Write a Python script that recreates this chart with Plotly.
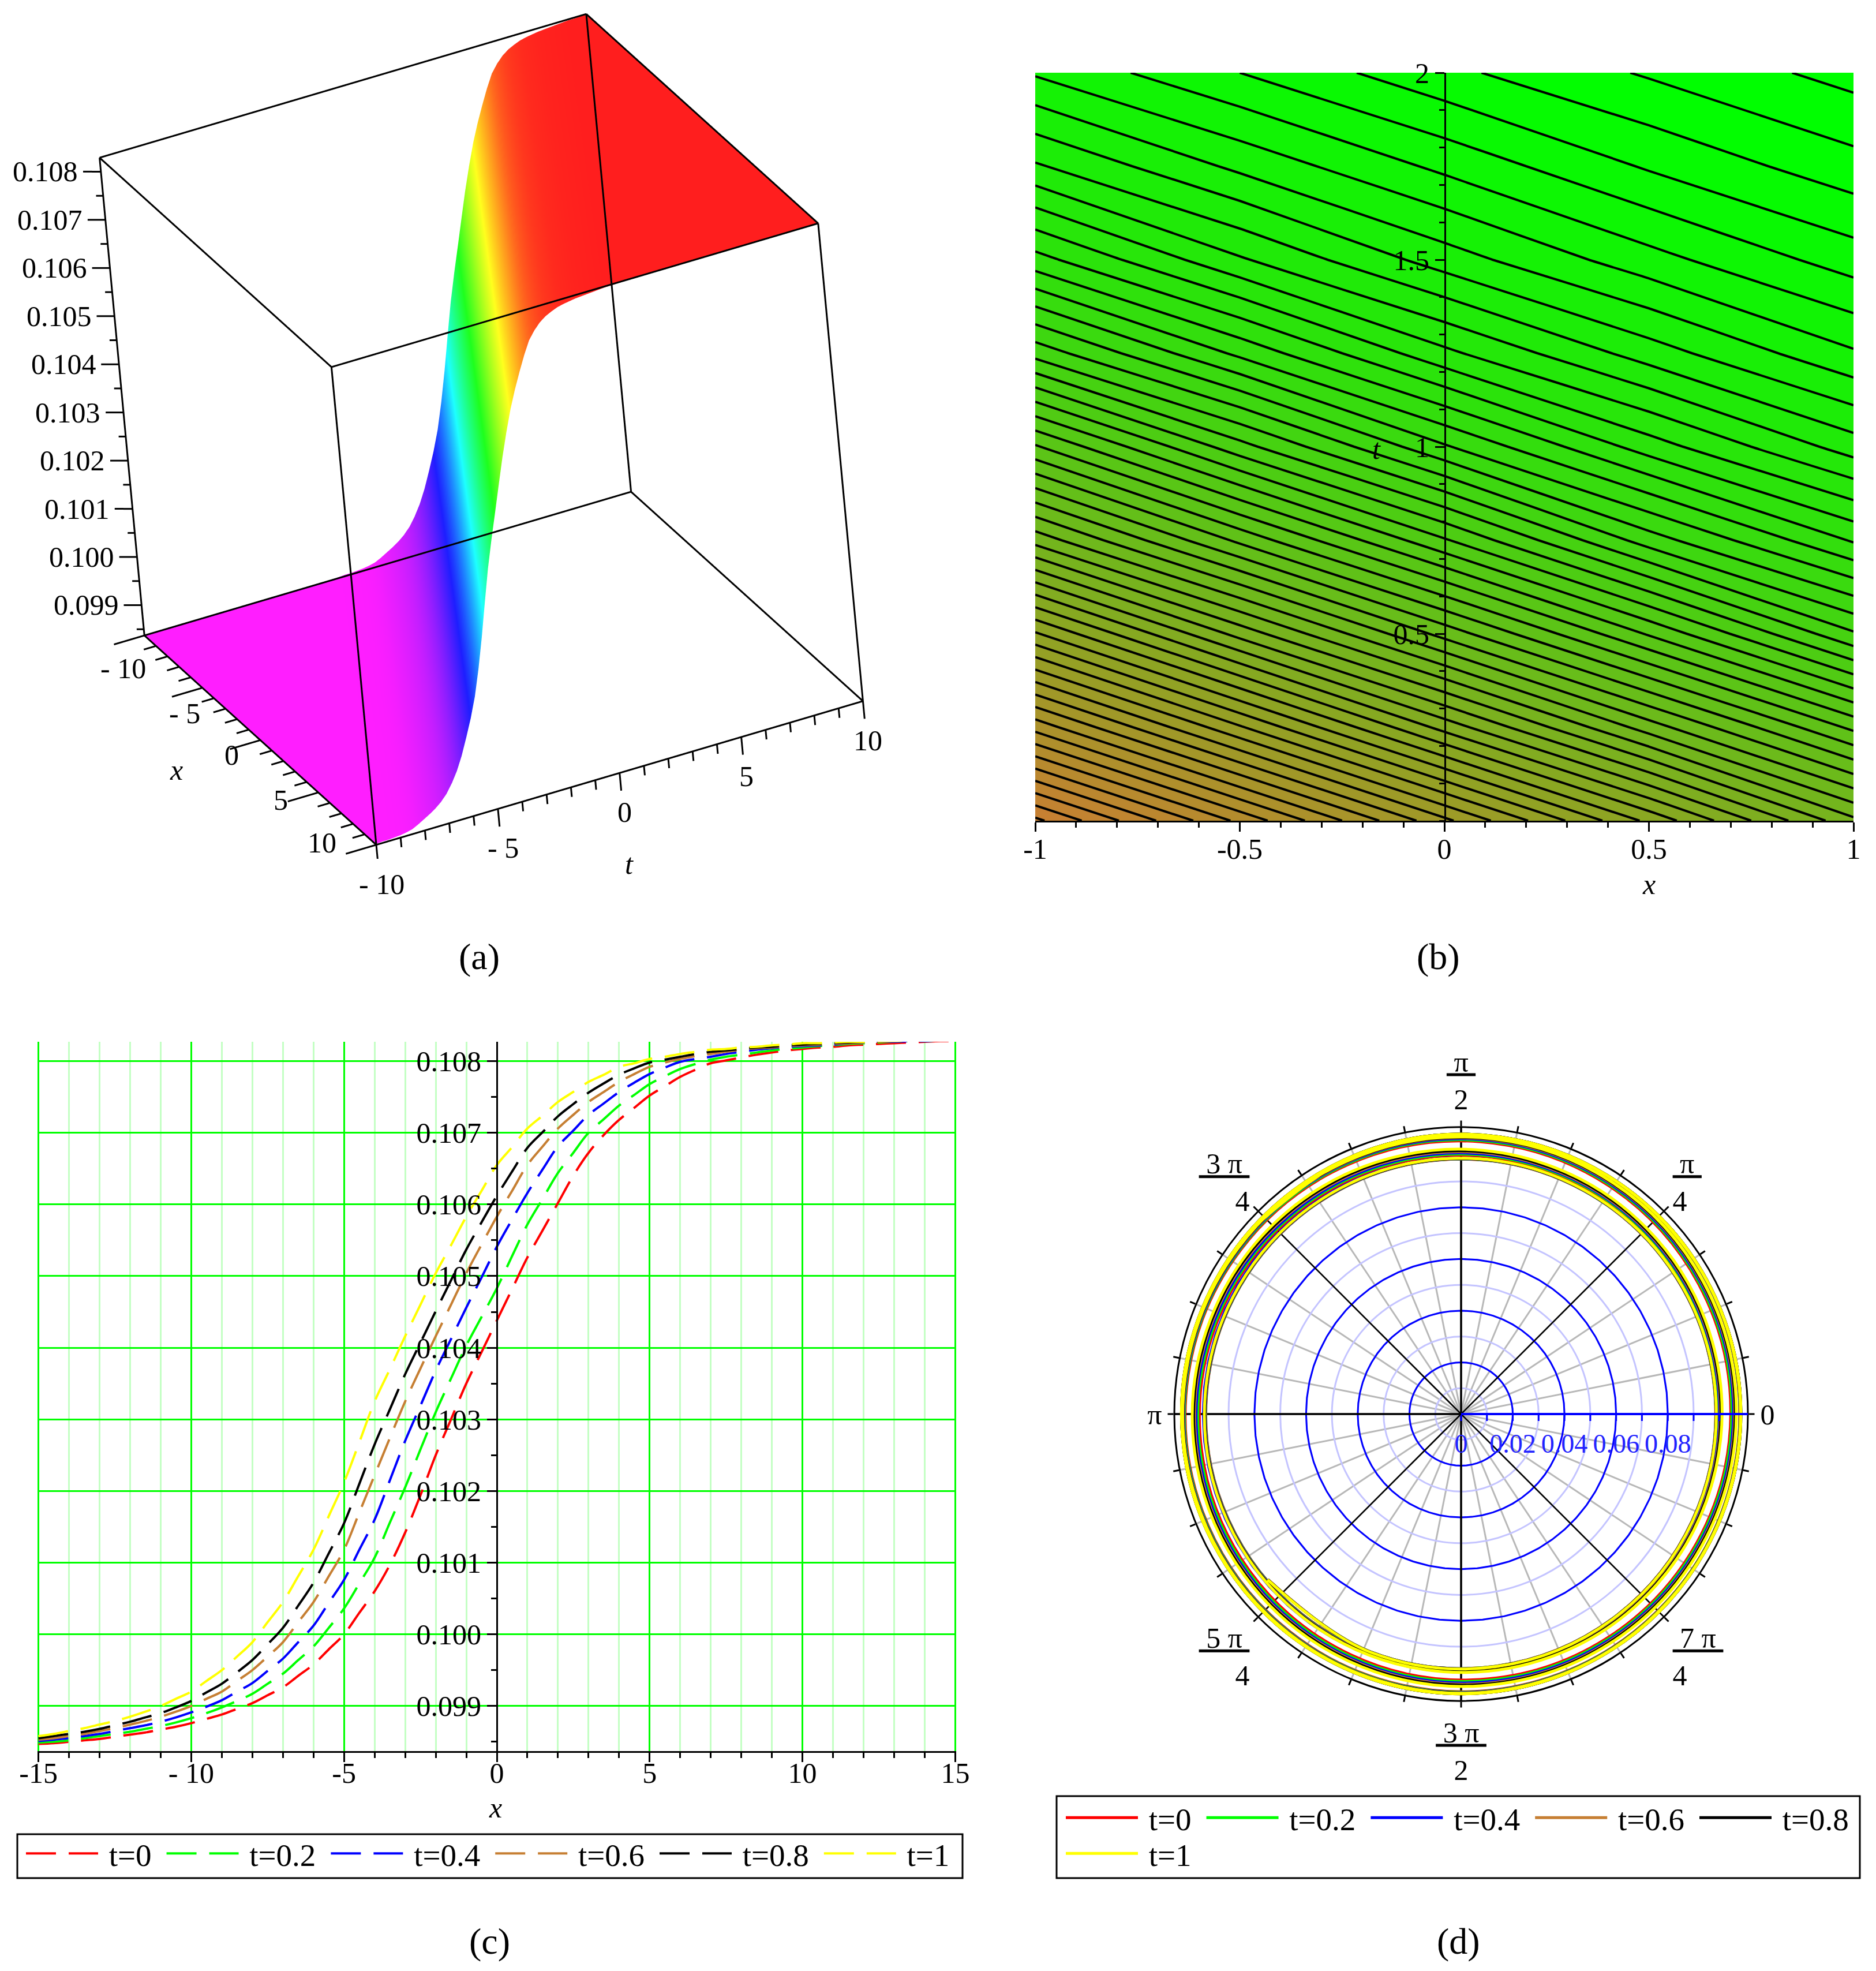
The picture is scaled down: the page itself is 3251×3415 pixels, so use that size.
import plotly.graph_objects as go

W, H = 3251, 3415
SERIF = "Liberation Serif"

# ---------- data ----------
x_whole = list(range(-15, 16))
x_half = [v + .5 for v in range(-15, 15)]
t_labels = ["t=0", "t=0.2", "t=0.4", "t=0.6", "t=0.8", "t=1"]
colors = ["#ff0000", "#00ff00", "#0000ff", "#c67f33", "#000000", "#ffff00"]

# readings at whole x values
u_t00 = [.09847,.09850,.09854,.09860,.09867,.09876,.09888,.09904,.09926,.09958,.10000,.10060,.10142,.10250,.10350,.10438,.10526,.10602,.10672,.10718,.10752,.10778,.10797,.10805,.10812,.10817,.10820,.10823,.10825,.10827,.10828]
u_t02 = [.09849,.09852,.09858,.09864,.09872,.09883,.09898,.09917,.09945,.09983,.10036,.10107,.10205,.10310,.10403,.10483,.10572,.10644,.10700,.10738,.10768,.10789,.10802,.10809,.10815,.10819,.10822,.10825,.10827,.10828,.10829]
u_t04 = [.09851,.09855,.09861,.09869,.09878,.09891,.09908,.09932,.09966,.10012,.10076,.10160,.10270,.10368,.10456,.10541,.10616,.10681,.10725,.10757,.10782,.10799,.10806,.10813,.10818,.10821,.10823,.10826,.10827,.10828,.10829]
u_t06 = [.09853,.09858,.09865,.09874,.09885,.09900,.09920,.09950,.09989,.10045,.10118,.10222,.10325,.10416,.10504,.10583,.10655,.10706,.10743,.10771,.10792,.10803,.10810,.10816,.10819,.10822,.10824,.10826,.10828,.10829,.10829]
u_t08 = [.09855,.09861,.09868,.09878,.09890,.09907,.09931,.09964,.10009,.10072,.10155,.10265,.10363,.10451,.10537,.10612,.10679,.10723,.10756,.10781,.10798,.10806,.10813,.10817,.10820,.10823,.10825,.10827,.10828,.10829,.10829]
u_t10 = [.09858,.09865,.09874,.09885,.09900,.09920,.09950,.09989,.10045,.10118,.10212,.10325,.10416,.10504,.10583,.10655,.10706,.10743,.10771,.10792,.10803,.10810,.10816,.10819,.10822,.10825,.10826,.10827,.10828,.10829,.10829]
# readings at half-way x values
h_t00 = [.09848,.09852,.09857,.09863,.09871,.09882,.09896,.09915,.09942,.09979,.10030,.10097,.10194,.10300,.10394,.10482,.10564,.10640,.10697,.10735,.10765,.10788,.10801,.10809,.10815,.10819,.10822,.10824,.10826,.10828]
h_t02 = [.09850,.09855,.09861,.09868,.09877,.09890,.09907,.09931,.09964,.10009,.10071,.10156,.10258,.10357,.10443,.10528,.10608,.10672,.10719,.10753,.10779,.10796,.10806,.10812,.10817,.10821,.10824,.10826,.10828,.10829]
h_t04 = [.09853,.09858,.09865,.09873,.09884,.09899,.09920,.09949,.09989,.10044,.10118,.10215,.10319,.10412,.10498,.10579,.10649,.10703,.10741,.10770,.10791,.10803,.10810,.10816,.10820,.10822,.10825,.10827,.10828,.10829]
h_t06 = [.09855,.09861,.09869,.09879,.09892,.09910,.09935,.09969,.10017,.10081,.10170,.10274,.10371,.10460,.10544,.10619,.10681,.10725,.10757,.10782,.10798,.10807,.10813,.10818,.10821,.10823,.10825,.10827,.10829,.10829]
h_t08 = [.09858,.09864,.09873,.09884,.09898,.09919,.09947,.09986,.10040,.10113,.10210,.10314,.10407,.10494,.10575,.10646,.10701,.10740,.10769,.10790,.10802,.10810,.10815,.10819,.10822,.10824,.10826,.10828,.10829,.10829]
h_t10 = [.09861,.09869,.09879,.09892,.09910,.09935,.09969,.10017,.10081,.10165,.10268,.10370,.10460,.10543,.10619,.10680,.10724,.10757,.10781,.10797,.10806,.10813,.10817,.10820,.10823,.10825,.10827,.10828,.10829,.10829]

def weave(whole, half):
    out = []
    for a, b in zip(whole, half):
        out += [a, b]
    return out + [whole[-1]]
x_vals = weave(x_whole, x_half)
curves = [weave(u_t00, h_t00), weave(u_t02, h_t02), weave(u_t04, h_t04),
          weave(u_t06, h_t06), weave(u_t08, h_t08), weave(u_t10, h_t10)]

# panel (b): values read on a coarse x/t lattice
b_x = [-1, -.5, 0, .5, 1]
b_t = [0, .25, .5, .75, 1, 1.25, 1.5, 1.75, 2]
b_z = [
 [.10350,.10394,.10438,.10482,.10526],
 [.10411,.10455,.10499,.10540,.10578],
 [.10471,.10515,.10555,.10593,.10631],
 [.10531,.10570,.10607,.10644,.10673],
 [.10583,.10621,.10655,.10684,.10708],
 [.10635,.10666,.10694,.10716,.10735],
 [.10677,.10703,.10724,.10741,.10756],
 [.10711,.10730,.10746,.10761,.10773],
 [.10737,.10752,.10766,.10777,.10787],
]

# panel (a): travelling-wave profile (one value per diagonal of the lattice)
a_profile = [.09838,.09838,.09838,.09838,.09839,.09840,.09840,.09841,.09842,.09844,.09847,.09853,.09860,.09867,.09875,.09885,.09898,.09916,.09938,.09966,
             .10000,.10036,.10078,.10132,.10194,.10262,.10328,.10385,.10438,.10492,.10545,.10593,.10637,.10674,.10707,.10738,.10765,.10782,.10795,.10804,
             .10810,.10815,.10818,.10820,.10822,.10823,.10824,.10825,.10826,.10827,.10827,.10828,.10828,.10829,.10829,.10829,.10829]
a_x = [-10 + .625 * i for i in range(33)]
a_t = [-10 + .25 * j for j in range(81)]
a_z = [[a_profile[min(56, max(0, i + j - 28))] for i in range(33)] for j in range(81)]
z_ticks = [.099, .100, .101, .102, .103, .104, .105, .106, .107, .108]
z_text = ["0.099", "0.100", "0.101", "0.102", "0.103", "0.104", "0.105", "0.106", "0.107", "0.108"]
z_minor = [.0985 + .001 * i for i in range(10)]
xt_ticks = [-10, -5, 0, 5, 10]
xt_minor = list(range(-10, 11))
x_text = ["- 10", "- 5", "0", "5", "10"]
t_text = ["- 10", "- 5", "0", "5", "10"]
z_lo, z_hi = .09837, .10829

# polar ticks
ang_vals = [i * 11.25 for i in range(32)]
ang_major = {0: "0", 45: "<u> π </u><br>4", 90: "<u> π </u><br>2", 135: "<u> 3 π </u><br>4", 180: "π",
             225: "<u> 5 π </u><br>4", 270: "<u> 3 π </u><br>2", 315: "<u> 7 π </u><br>4"}
r_vals = [0, .01, .02, .03, .04, .05, .06, .07, .08, .09, .10]
r_text = ["0", "", "0.02", "", "0.04", "", "0.06", "", "0.08", "", ""]
r_blue = [.02, .04, .06, .08, .10]
r_max = .111

def fx(p): return p / W
def fy(p): return 1 - p / H

fig = go.Figure()

# ---------- (a) surface ----------
hue = [[0, "#ff1eff"], [.2, "#1e1eff"], [.4, "#1effff"], [.6, "#1eff1e"], [.8, "#ffff1e"], [1, "#ff1e1e"]]
fig.add_trace(go.Surface(x=a_x, y=a_t, z=a_z, colorscale=hue, cmin=z_lo, cmax=z_hi, showscale=False, scene="scene",
                         lighting=dict(ambient=1, diffuse=0, specular=0, fresnel=0, roughness=1),
                         contours=dict(x=dict(highlight=False), y=dict(highlight=False), z=dict(highlight=False)),
                         hoverinfo="skip"))
cx, cy, cz = [], [], []
def seg(p, q):
    cx.extend([p[0], q[0], None]); cy.extend([p[1], q[1], None]); cz.extend([p[2], q[2], None])
for (a, b) in [((0,0,0),(1,0,0)),((1,0,0),(1,1,0)),((1,1,0),(0,1,0)),((0,1,0),(0,0,0)),
               ((0,0,1),(1,0,1)),((1,0,1),(1,1,1)),((1,1,1),(0,1,1)),((0,1,1),(0,0,1)),
               ((0,0,0),(0,0,1)),((1,0,0),(1,0,1)),((1,1,0),(1,1,1)),((0,1,0),(0,1,1))]:
    seg(*[([-10, 10][c[0]], [-10, 10][c[1]], [z_lo, z_hi][c[2]]) for c in (a, b)])
z_span = z_hi - z_lo
for v in z_ticks:
    seg((-10, -10, v), (-10.38, -10.55, v))
for v in z_minor:
    seg((-10, -10, v), (-10.15, -10.22, v))
for v in xt_minor:
    major = v in xt_ticks
    seg((v, -10, z_lo), (v, -11.25 if major else -10.5, z_lo))
    seg((10, v, z_lo), (10, v, z_lo - (.037 if major else .02) * z_span))
fig.add_trace(go.Scatter3d(x=cx, y=cy, z=cz, mode="lines", line=dict(color="black", width=6), scene="scene2",
                           hoverinfo="skip", showlegend=False))

# ---------- (b) contour ----------
fig.add_trace(go.Contour(x=b_x, y=b_t, z=b_z, xaxis="x", yaxis="y", showscale=False, autocontour=False,
                         colorscale=[[0, "#c87f32"], [1, "#00ff00"]], zmin=.1035, zmax=.1078,
                         contours=dict(start=.10352, end=.10792, size=.00008, coloring="fill"),
                         line=dict(color="black", width=4, smoothing=0.5), hoverinfo="skip"))

# ---------- (c) dashed curves ----------
for name, col, u in zip(t_labels, colors, curves):
    fig.add_trace(go.Scatter(x=x_vals, y=u, xaxis="x2", yaxis="y2", mode="lines", name="\u00a0" + name, legend="legend",
                             line=dict(color=col, width=4, dash="52px,22px", shape="spline")))

# ---------- (d) polar ----------
ring_theta = list(range(0, 361, 6))
for rv in r_blue:
    fig.add_trace(go.Scatterpolar(r=[rv] * len(ring_theta), theta=ring_theta, subplot="polar", mode="lines",
                                  line=dict(color="#0000ff", width=3), showlegend=False, hoverinfo="skip"))
for ang in [45, 135, 225, 315]:
    fig.add_trace(go.Scatterpolar(r=[0, r_max], theta=[ang, ang], subplot="polar", mode="lines",
                                  line=dict(color="black", width=2.5), showlegend=False, hoverinfo="skip"))
for ang in [90, 180, 270]:
    fig.add_trace(go.Scatterpolar(r=[0, r_max], theta=[ang, ang], subplot="polar", mode="lines",
                                  line=dict(color="black", width=3.5), showlegend=False, hoverinfo="skip"))
for k, (name, col, u) in enumerate(zip(t_labels, colors, curves)):
    fig.add_trace(go.Scatterpolar(r=u, theta=x_vals, thetaunit="radians", subplot="polar", mode="lines", name="\u00a0" + name,
                                  legend="legend3" if k == 5 else "legend2",
                                  line=dict(color=col, width=5, shape="spline", smoothing=1.05)))

# ---------- layout ----------
tf = dict(family=SERIF, size=50, color="black")
ortho_eye = [.813, -.345, .460]
K = 2.0
cam = dict(eye=dict(x=ortho_eye[0]*K, y=ortho_eye[1]*K, z=ortho_eye[2]*K), up=dict(x=-.386, y=.265, z=.881),
           center=dict(x=0, y=0, z=0), projection=dict(type="orthographic"))
dom3 = dict(x=[fx(90), fx(1578)], y=[fy(1488), fy(0)])
PAD = 1.2
ZOOM = 1.26
zc = (z_lo + z_hi) / 2
r_xy = [-10 * PAD, 10 * PAD]
r_z = [zc - PAD * z_span / 2, zc + PAD * z_span / 2]
hid = dict(visible=False, showspikes=False)
def scene_dict(**kw):
    a = PAD * ZOOM
    return dict(domain=dom3, aspectmode="manual", aspectratio=dict(x=a, y=a, z=a), camera=cam, bgcolor="rgba(0,0,0,0)",
                xaxis=dict(range=r_xy, **hid), yaxis=dict(range=r_xy, **hid), zaxis=dict(range=r_z, **hid), **kw)
def s_ann(txt, x, y, z, dx, dy):
    return dict(text=txt, x=x, y=y, z=z, xshift=dx, yshift=-dy, showarrow=False, xanchor="center", yanchor="middle",
                font=dict(family=SERIF, size=50, color="black"))
scene_ann = [s_ann(t, -10, -10, v, -96, 0) for t, v in zip(z_text, z_ticks)]
x_shift = [(-37, 57), (-31, 44), (-50, 26), (-65, 13), (-94, -4)]
scene_ann += [s_ann(t, v, -10, z_lo, d[0], d[1]) for t, v, d in zip(x_text, xt_ticks, x_shift)]
scene_ann += [s_ann(t, 10, v, z_lo, 9, 68) for t, v in zip(t_text, xt_ticks)]

legend_common = dict(orientation="h", xanchor="left", yanchor="top", bgcolor="rgba(0,0,0,0)", borderwidth=0,
                     itemwidth=125, font=dict(family=SERIF, size=55, color="black"), indentation=16, itemclick=False, itemdoubleclick=False)

def label(txt, x, y, size=50):
    return dict(text=txt, x=fx(x), y=fy(y), xref="paper", yref="paper", showarrow=False,
                xanchor="center", yanchor="middle", font=dict(family=SERIF, size=size, color="black"))

tick_common = dict(ticks="outside", ticklen=16, tickwidth=3, tickcolor="black", tickfont=tf, tickmode="array",
                   zeroline=False, showline=True, linecolor="black", linewidth=3)
minor_common = dict(ticks="outside", ticklen=9, tickwidth=3, tickcolor="black")

fig.update_layout(
    width=W, height=H, autosize=False, margin=dict(l=0, r=0, t=0, b=0, autoexpand=False), paper_bgcolor="white", plot_bgcolor="white",
    showlegend=True, hovermode=False,
    scene=scene_dict(annotations=scene_ann),
    scene2=scene_dict(),
    # (b)
    xaxis=dict(domain=[fx(1794), fx(3212)], range=[-1, 1], anchor="y", showgrid=False, ticklabelstandoff=-13,
               tickvals=[-1, -.5, 0, .5, 1], ticktext=["-1", "-0.5", "0", "0.5", "1"], **tick_common,
               minor=dict(tickvals=[i / 10 for i in range(-10, 11)], showgrid=False, **minor_common)),
    yaxis=dict(domain=[fy(1422), fy(126)], range=[0, 2], anchor="free", position=fx(2504), showgrid=False,
               tickvals=[.5, 1, 1.5, 2], ticktext=["0.5", "1", "1.5", "2"], **tick_common,
               minor=dict(tickvals=[i / 10 for i in range(0, 21)], showgrid=False, **minor_common)),
    # (c)
    xaxis2=dict(domain=[fx(65), fx(1657)], range=[-15.03, 15.03], anchor="y2", showgrid=True, gridcolor="#00ff00", gridwidth=3, ticklabelstandoff=-24,
                tickvals=[-15, -10, -5, 0, 5, 10, 15], ticktext=["-15", "- 10", "-5", "0", "5", "10", "15"], **tick_common,
                minor=dict(tickvals=list(range(-15, 16)), showgrid=True, gridcolor="#c4ffc4", gridwidth=3, **minor_common)),
    yaxis2=dict(domain=[fy(3034), fy(1805)], range=[.09837, .10827], anchor="free", position=fx(861), showgrid=True, gridcolor="#00ff00", gridwidth=3,
                tickvals=z_ticks, ticktext=z_text, **tick_common,
                minor=dict(tickvals=[.0985 + i * .0005 for i in range(20)], showgrid=False, **minor_common)),
    # (d)
    polar=dict(domain=dict(x=[fx(2532 - 497), fx(2532 + 497)], y=[fy(2450 + 497), fy(2450 - 497)]), bgcolor="white",
               radialaxis=dict(range=[0, r_max], angle=0, side="clockwise", tickmode="array", tickvals=r_vals, ticktext=r_text, tickangle=0,
                               showline=True, linecolor="#0000ff", linewidth=4, ticks="outside", ticklen=10, tickwidth=3, tickcolor="#0000ff",
                               tickfont=dict(family=SERIF, size=46, color="#2222ff"), showgrid=True, gridcolor="#c4c4ff", gridwidth=3, layer="above traces"),
               angularaxis=dict(tickmode="array", tickvals=ang_vals, ticktext=[ang_major.get(v, "") for v in ang_vals], direction="counterclockwise", rotation=0,
                                showline=True, linecolor="black", linewidth=3, ticks="outside", ticklen=10, tickwidth=3, tickcolor="black", tickfont=tf,
                                showgrid=True, gridcolor="#b8b8b8", gridwidth=3, layer="below traces")),
    legend=dict(x=fx(24), y=fy(3169), **legend_common),
    legend2=dict(x=fx(1826), y=fy(3107), **legend_common),
    legend3=dict(x=fx(1826), y=fy(3169), **legend_common),
    shapes=[dict(type="rect", xref="paper", yref="paper", x0=fx(30), x1=fx(1668), y0=fy(3254), y1=fy(3178), line=dict(color="black", width=3), fillcolor="rgba(0,0,0,0)"),
            dict(type="rect", xref="paper", yref="paper", x0=fx(1831), x1=fx(3223), y0=fy(3254), y1=fy(3112), line=dict(color="black", width=3), fillcolor="rgba(0,0,0,0)")],
    annotations=[label("<i>x</i>", 305, 1334), label("<i>t</i>", 1090, 1497),
                 label("<i>x</i>", 2857, 1532), label("<i>t</i>", 2385, 778),
                 label("<i>x</i>", 858, 3132),
                 label("(a)", 830, 1658, 64), label("(b)", 2492, 1658, 64), label("(c)", 848, 3363, 64), label("(d)", 2527, 3363, 64)],
)

fig.write_html("out.html", post_script="document.body.style.margin='0';", config=dict(displayModeBar=False))
